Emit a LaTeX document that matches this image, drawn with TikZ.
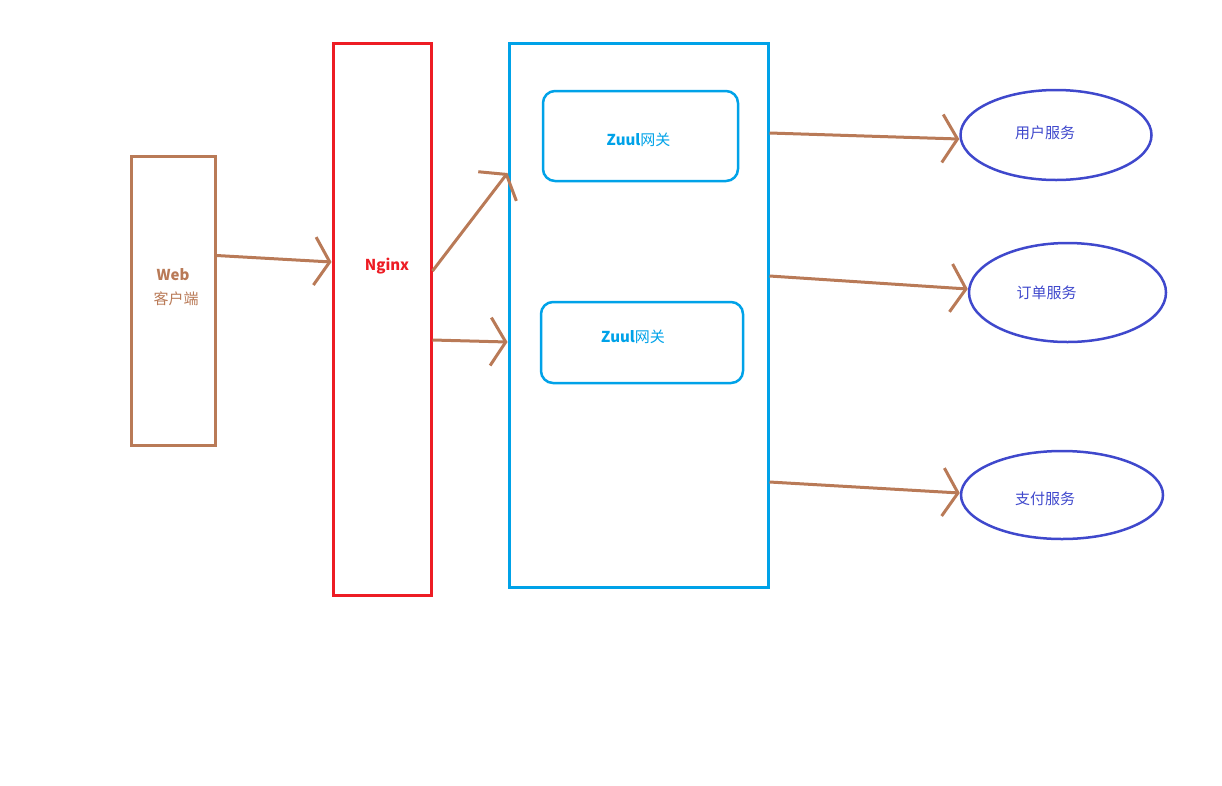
\documentclass[tikz,border=0pt]{standalone}
\usepackage{fontspec}
\setmainfont{Noto Sans CJK SC}
\usepackage{tikz}
\usetikzlibrary{arrows.meta,shapes.geometric}

\definecolor{webbrown}{RGB}{185,122,87}
\definecolor{ngred}{RGB}{237,28,36}
\definecolor{zuulblue}{RGB}{0,162,232}
\definecolor{svcblue}{RGB}{63,72,204}

\tikzset{
    box/.style={draw, line width=3pt, inner sep=0pt},
    zuulbox/.style={box, draw=zuulblue, rounded corners=12pt, line width=2.5pt},
    svc/.style={ellipse, draw=svcblue, line width=2.5pt, inner sep=0pt},
    every label/.style={font=\fontsize{15}{19}\selectfont, inner sep=0pt, align=center},
    flow/.style={draw=webbrown, line width=3pt, -{Straight Barb[length=15pt,width=48pt,line width=3pt]}}
}

\begin{document}
\begin{tikzpicture}[x=1pt, y=-1pt]
    \useasboundingbox (0,0) rectangle (1222,785);

    % client and nginx
    \node[box, draw=webbrown, minimum width=84pt, minimum height=289pt,
        label={[text=webbrown, xshift=0pt, yshift=13pt]center:\textbf{Web}\\[5pt]\hspace*{6pt}客户端}]
        (web) at (173,300.5) {};
    \node[box, draw=ngred, minimum width=98pt, minimum height=552pt,
        label={[text=ngred, xshift=5pt, yshift=53pt]center:\textbf{Nginx}}]
        (nginx) at (382,319) {};

    % gateway cluster
    \node[box, draw=zuulblue, minimum width=259pt, minimum height=544pt] (gate) at (638.5,315) {};
    \node[zuulbox, minimum width=195pt, minimum height=90pt,
        label={[text=zuulblue, xshift=-2pt, yshift=-4pt]center:\textbf{Zuul}网关}] (zuula) at (640.5,136) {};
    \node[zuulbox, minimum width=202pt, minimum height=81pt,
        label={[text=zuulblue, xshift=-9pt, yshift=6pt]center:\textbf{Zuul}网关}] (zuulb) at (642,342.5) {};

    % services
    \node[svc, minimum width=191pt, minimum height=90pt,
        label={[text=svcblue, xshift=-11pt, yshift=2pt]center:用户服务}] (user) at (1056,135) {};
    \node[svc, minimum width=197pt, minimum height=99pt,
        label={[text=svcblue, xshift=-21pt, yshift=0pt]center:订单服务}] (order) at (1067.5,292.5) {};
    \node[svc, minimum width=202pt, minimum height=88pt,
        label={[text=svcblue, xshift=-17pt, yshift=-4pt]center:支付服务}] (pay) at (1062,495) {};

    \draw[flow] ([yshift=45pt]web.east) -- ([yshift=57pt]nginx.west);
    \draw[flow] ([yshift=48pt]nginx.east) -- ([yshift=142pt]gate.west);
    \draw[flow] ([yshift=-21pt]nginx.east) -- ([yshift=-27pt]gate.west);
    %\draw[flow] (gate.east) -- (user.west);
    \draw[flow] ([yshift=182pt]gate.east) -- ([yshift=-4pt]user.west);
    \draw[flow] ([yshift=39pt]gate.east) -- ([yshift=3.5pt]order.west);
    \draw[flow] ([yshift=-167pt]gate.east) -- ([yshift=2pt]pay.west);

\end{tikzpicture}
\end{document}
